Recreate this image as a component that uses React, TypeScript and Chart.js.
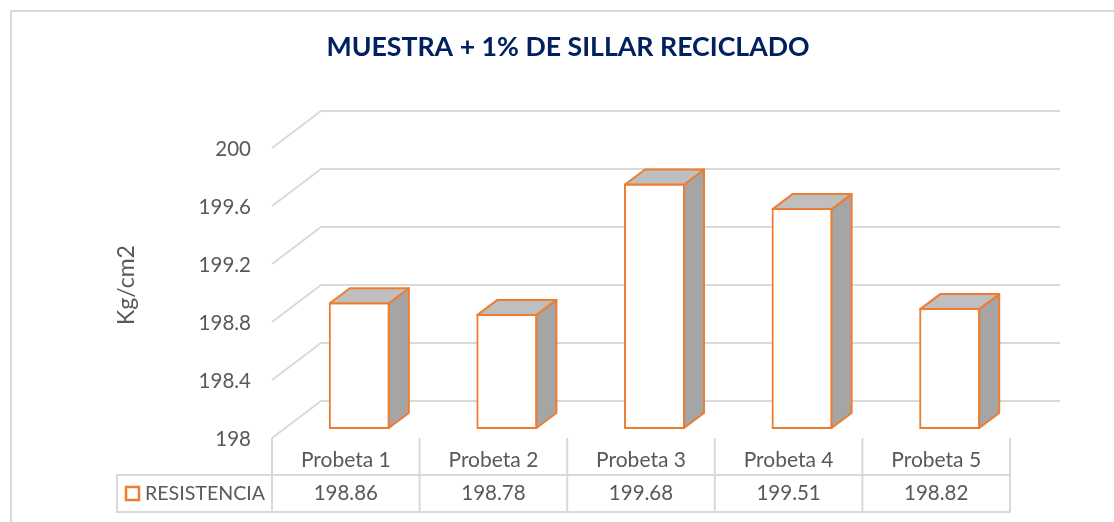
import React, { useEffect, useRef } from "react";
import { Chart, registerables } from "chart.js";

Chart.register(...registerables);

const titleText = "MUESTRA + 1% DE SILLAR RECICLADO";
const axisTitle = "Kg/cm2";
const seriesName = "RESISTENCIA";
const categories = ["Probeta 1", "Probeta 2", "Probeta 3", "Probeta 4", "Probeta 5"];
const resistencia = [198.86, 198.78, 199.68, 199.51, 198.82];
const tableLabels = ["198.86", "198.78", "199.68", "199.51", "198.82"];
const yTickLabels: Record<number, string> = {
  198: "198",
  198.4: "198.4",
  198.8: "198.8",
  199.2: "199.2",
  199.6: "199.6",
  200: "200",
};

const ORANGE = "#ED7D31";
const GRID = "#D9D9D9";
const TEXT = "#595959";
const FONT = "Lato";

const wall = { dx: 49, dy: -37 };
const barShift = { dx: 13.5, dy: -10 };
const barDepth = { dx: 20, dy: -15 };
const table = { left: 117, top: 475, bottom: 512, tickTop: 438 };

const scene = {
  id: "scene",
  beforeDatasetsDraw(chart: any) {
    const { ctx, scales } = chart;
    const { x, y } = scales;
    ctx.save();
    ctx.strokeStyle = GRID;
    ctx.lineWidth = 2;
    // frame of the picture
    ctx.beginPath();
    ctx.moveTo(11, 522);
    ctx.lineTo(11, 11);
    ctx.lineTo(1114, 11);
    ctx.stroke();
    // wall gridlines
    y.ticks.forEach((t: any) => {
      const py = y.getPixelForValue(t.value);
      ctx.beginPath();
      ctx.moveTo(x.left, py);
      ctx.lineTo(x.left + wall.dx, py + wall.dy);
      ctx.lineTo(x.right + wall.dx + 1, py + wall.dy);
      ctx.stroke();
    });
    ctx.restore();
    ctx.save();
    ctx.translate(barShift.dx, barShift.dy);
  },
  afterDatasetsDraw(chart: any) {
    const { ctx } = chart;
    const bars = chart.getDatasetMeta(0).data;
    bars.forEach((b: any) => {
      const l = b.x - b.width / 2;
      const r = b.x + b.width / 2;
      const t = b.y;
      const bot = b.base;
      ctx.lineWidth = 2;
      ctx.lineJoin = "round";
      ctx.strokeStyle = ORANGE;
      ctx.fillStyle = "#A5A5A5";
      ctx.beginPath();
      ctx.moveTo(r, t);
      ctx.lineTo(r + barDepth.dx, t + barDepth.dy);
      ctx.lineTo(r + barDepth.dx, bot + barDepth.dy);
      ctx.lineTo(r, bot);
      ctx.closePath();
      ctx.fill();
      ctx.stroke();
      ctx.fillStyle = "#BFBFBF";
      ctx.beginPath();
      ctx.moveTo(l, t);
      ctx.lineTo(l + barDepth.dx, t + barDepth.dy);
      ctx.lineTo(r + barDepth.dx, t + barDepth.dy);
      ctx.lineTo(r, t);
      ctx.closePath();
      ctx.fill();
      ctx.stroke();
    });
    ctx.restore();

    // data table
    const { x } = chart.scales;
    ctx.save();
    ctx.strokeStyle = GRID;
    ctx.lineWidth = 2;
    ctx.beginPath();
    ctx.rect(table.left, table.top, x.right - table.left, table.bottom - table.top);
    const step = (x.right - x.left) / categories.length;
    for (let i = 0; i <= categories.length; i++) {
      const px = x.left + i * step;
      ctx.moveTo(px, table.tickTop);
      ctx.lineTo(px, table.bottom);
    }
    ctx.stroke();
    ctx.fillStyle = TEXT;
    ctx.font = `20.5px ${FONT}`;
    ctx.textAlign = "center";
    ctx.textBaseline = "middle";
    const midY = (table.top + table.bottom) / 2;
    tableLabels.forEach((s, i) => {
      ctx.fillText(s, x.getPixelForValue(i), midY);
    });
    ctx.textAlign = "left";
    ctx.font = `19.6px ${FONT}`;
    ctx.fillText(seriesName, 145, midY);
    ctx.strokeStyle = ORANGE;
    ctx.fillStyle = "#FFFFFF";
    ctx.lineWidth = 2.5;
    ctx.beginPath();
    ctx.rect(126, 487, 13, 13);
    ctx.fill();
    ctx.stroke();
    // value axis title
    ctx.translate(127, 285);
    ctx.rotate(-Math.PI / 2);
    ctx.fillStyle = TEXT;
    ctx.font = `23px ${FONT}`;
    ctx.textAlign = "center";
    ctx.fillText(axisTitle, 0, 0);
    ctx.restore();
  },
};

export default function App() {
  const ref = useRef<HTMLCanvasElement>(null);
  useEffect(() => {
    const chart = new Chart(ref.current!, {
      type: "bar",
      data: {
        labels: categories,
        datasets: [
          {
            label: seriesName,
            data: resistencia,
            base: 198,
            backgroundColor: "#FFFFFF",
            borderColor: ORANGE,
            borderWidth: 2,
            borderSkipped: false,
            inflateAmount: 1,
            barPercentage: 0.4,
            categoryPercentage: 1,
            clip: false as any,
          },
        ],
      },
      options: {
        responsive: false,
        animation: false,
        layout: { padding: { left: 126, right: 104, top: 0, bottom: 0 } },
        plugins: {
          legend: { display: false },
          tooltip: { enabled: false },
          title: {
            display: true,
            text: titleText,
            color: "#002060",
            font: { family: FONT, size: 26.7, weight: "bold", lineHeight: 1.2 },
            padding: { top: 31, bottom: 85 },
          },
        },
        scales: {
          x: {
            grid: { display: false },
            border: { display: false },
            ticks: {
              color: TEXT,
              font: { family: FONT, size: 21 },
              padding: 2,
              maxRotation: 0,
            },
            afterFit: (s: any) => {
              s.height = 84;
            },
          },
          y: {
            min: 198,
            max: 200,
            grid: { display: false },
            border: { display: false },
            ticks: {
              stepSize: 0.4,
              color: TEXT,
              font: { family: FONT, size: 20.5 },
              padding: 13,
              labelOffset: 1.5,
              callback: (v: any) => yTickLabels[Math.round(Number(v) * 10) / 10],
            },
            afterFit: (s: any) => {
              s.width = 146;
            },
          },
        },
      },
      plugins: [scene],
    } as any);
    return () => chart.destroy();
  }, []);
  return (
    <canvas
      ref={ref}
      width={1114}
      height={522}
      style={{ position: "fixed", left: 0, top: 0, width: 1114, height: 522 }}
    />
  );
}
